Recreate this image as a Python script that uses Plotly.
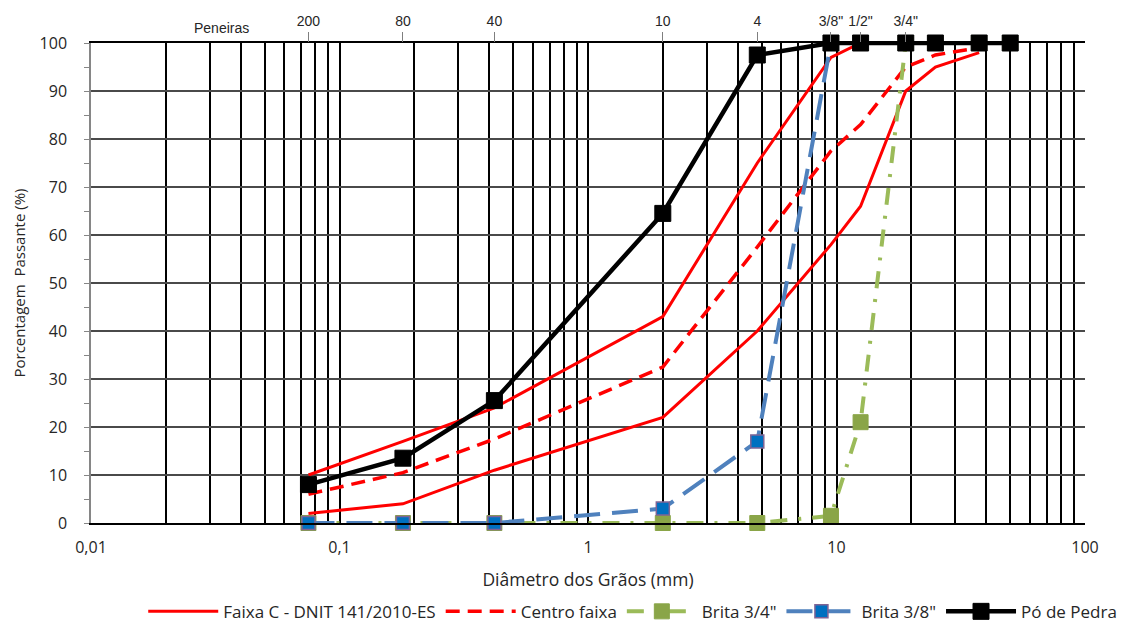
import plotly.graph_objects as go

# Sieve openings (mm) used for the aggregate curves
sieves_mm = [0.075, 0.18, 0.42, 2.0, 4.8, 9.5, 12.5, 19.0, 25.0, 37.5, 50.0]

# Sieve names shown along the top edge
sieve_label_mm = [0.075, 0.18, 0.42, 2.0, 4.8, 9.5, 12.5, 19.0]
sieve_labels = ["200", "80", "40", "10", "4", '3/8"', '1/2"', '3/4"']

# Gradation band (Faixa C) and its centre line
band_mm = [0.075, 0.18, 0.42, 2.0, 4.8, 9.5, 12.5, 19.0, 25.0, 37.5]
band_upper = [10, 17, 24, 43, 75, 97, 100, 100, 100, 100]
band_lower = [2, 4, 11, 22, 40, 58, 66, 90, 95, 98]
band_centre = [6, 10.5, 17.5, 32.5, 57.5, 77.5, 83, 95, 97.5, 99]

# Percent passing of each aggregate
brita_34 = [0, 0, 0, 0, 0, 1.5, 21, 100, 100, 100, 100]
brita_38 = [0, 0, 0, 3, 17, 100, 100, 100, 100, 100, 100]
po_de_pedra = [8, 13.5, 25.5, 64.5, 97.5, 100, 100, 100, 100, 100, 100]

# Axis ticks
x_tick_vals = [0.01, 0.1, 1, 10, 100]
x_tick_text = ["0,01", "0,1", "1", "10", "100"]
x_minor_vals = [m * d for d in (0.01, 0.1, 1, 10) for m in range(2, 10)]

BODY_FONT = "Open Sans"
TEXT_COLOR = "#262626"

fig = go.Figure()

fig.add_trace(go.Scatter(
    x=band_mm, y=band_upper, mode="lines", name="Faixa C - DNIT 141/2010-ES",
    legendgroup="faixa", line=dict(color="#FF0000", width=3), cliponaxis=False))
fig.add_trace(go.Scatter(
    x=band_mm, y=band_lower, mode="lines", name="Faixa C - DNIT 141/2010-ES",
    legendgroup="faixa", showlegend=False,
    line=dict(color="#FF0000", width=3), cliponaxis=False))
fig.add_trace(go.Scatter(
    x=band_mm, y=band_centre, mode="lines", name="Centro faixa",
    line=dict(color="#FF0000", width=3.5, dash="14px,8px"), cliponaxis=False))
fig.add_trace(go.Scatter(
    x=sieves_mm, y=brita_34, mode="lines+markers", name='Brita 3/4"',
    line=dict(color="#9BBB59", width=4, dash="17px,11px,3px,11px"),
    marker=dict(symbol="square", size=15, color="#8AA548",
                line=dict(color="#8AA548", width=1)),
    cliponaxis=False))
fig.add_trace(go.Scatter(
    x=sieves_mm, y=brita_38, mode="lines+markers", name='Brita 3/8"',
    line=dict(color="#4F81BD", width=4, dash="26px,12px"),
    marker=dict(symbol="square", size=13, color="#0070C0",
                line=dict(color="#7F6495", width=1.5)),
    cliponaxis=False))
fig.add_trace(go.Scatter(
    x=sieves_mm, y=po_de_pedra, mode="lines+markers", name="Pó de Pedra",
    line=dict(color="#000000", width=4.5),
    marker=dict(symbol="square", size=16, color="#000000",
                line=dict(color="#000000", width=1)),
    cliponaxis=False))

# Carrier trace for the top sieve axis
fig.add_trace(go.Scatter(
    x=sieve_label_mm, y=[None] * len(sieve_label_mm), xaxis="x2",
    mode="markers", showlegend=False, hoverinfo="skip"))

fig.update_layout(
    width=1136, height=623,
    margin=dict(l=91, r=51, t=43, b=100, autoexpand=False),
    paper_bgcolor="white", plot_bgcolor="white",
    font=dict(family=BODY_FONT, size=15, color=TEXT_COLOR),
    xaxis=dict(
        type="log", range=[-2, 2],
        tickmode="array", tickvals=x_tick_vals, ticktext=x_tick_text,
        tickfont=dict(family=BODY_FONT, size=16, color=TEXT_COLOR),
        ticks="", ticklabelstandoff=9,
        showgrid=True, gridcolor="#000000", gridwidth=1.5,
        minor=dict(tickmode="array", tickvals=x_minor_vals, showgrid=True,
                   gridcolor="#000000", gridwidth=1.5, ticks=""),
        showline=True, linecolor="#000000", linewidth=1.5, mirror=True,
        zeroline=False,
        title=dict(text="Diâmetro dos Grãos (mm)", standoff=17,
                   font=dict(family=BODY_FONT, size=17.5, color=TEXT_COLOR)),
    ),
    xaxis2=dict(
        type="log", range=[-2, 2], overlaying="x", side="top", anchor="y",
        tickmode="array", tickvals=sieve_label_mm, ticktext=sieve_labels,
        ticks="outside", ticklen=10, tickcolor="#7F7F7F", tickwidth=1,
        tickfont=dict(family="Liberation Sans", size=14, color=TEXT_COLOR),
        showgrid=False, showline=False, zeroline=False,
    ),
    yaxis=dict(
        range=[0, 100], tickmode="linear", tick0=0, dtick=10,
        tickfont=dict(family=BODY_FONT, size=16, color=TEXT_COLOR),
        ticks="outside", ticklen=5, tickcolor="#868686", tickwidth=1,
        ticklabelstandoff=14,
        minor=dict(tick0=5, dtick=10, ticks="outside", ticklen=5,
                   tickcolor="#868686", showgrid=False),
        showgrid=True, gridcolor="#4A4A4A", gridwidth=1.5,
        showline=True, linecolor="#868686", linewidth=1.5,
        zeroline=False,
        title=dict(text="Porcentagem  Passante (%)", standoff=10,
                   font=dict(family=BODY_FONT, size=15, color=TEXT_COLOR)),
    ),
    legend=dict(
        orientation="h", x=0.545, xanchor="center", y=-0.185, yanchor="middle",
        font=dict(family=BODY_FONT, size=17, color=TEXT_COLOR),
        itemwidth=70, bgcolor="rgba(0,0,0,0)", traceorder="normal",
    ),
    annotations=[dict(
        text="Peneiras", xref="paper", yref="paper", x=0.131, y=1.0,
        xanchor="center", yshift=25, showarrow=False,
        font=dict(family="Liberation Sans", size=14, color=TEXT_COLOR),
    )],
)

fig.write_html("out.html")
